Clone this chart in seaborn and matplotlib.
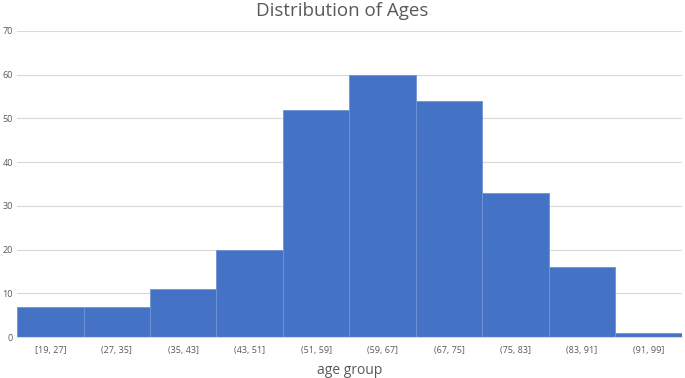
import seaborn as sns
import matplotlib.pyplot as plt
import pandas as pd

# Histogram counts per age group
age_groups = ['[19, 27]', '(27, 35]', '(35, 43]', '(43, 51]', '(51, 59]',
              '(59, 67]', '(67, 75]', '(75, 83]', '(83, 91]', '(91, 99]']
counts = [7, 7, 11, 20, 52, 60, 54, 33, 16, 1]

df = pd.DataFrame({'age group': age_groups, 'count': counts})

sns.set_style('white')
plt.rcParams['font.family'] = ['Open Sans', 'DejaVu Sans']

fig = plt.figure(figsize=(6.85, 3.78), dpi=100)
ax = fig.add_axes([0.025, 0.108, 0.97, 0.810])

sns.barplot(data=df, x='age group', y='count', color='#4472C4', width=1.0,
            edgecolor='#6E93D6', linewidth=0.6, saturation=1, ax=ax)

ax.set_ylim(0, 70)
ax.set_xlim(-0.5, len(age_groups) - 0.5)
ax.set_yticks(range(0, 71, 10))
ax.yaxis.grid(True, color='#D9D9D9', linewidth=0.8)
ax.set_axisbelow(True)
for side in ['top', 'right', 'left']:
    ax.spines[side].set_visible(False)
ax.spines['bottom'].set_color('#D9D9D9')
ax.tick_params(axis='both', length=0, labelsize=6.5, labelcolor='#595959')
ax.tick_params(axis='y', pad=3)
ax.tick_params(axis='x', pad=6)

ax.set_ylabel('')
ax.set_xlabel('age group', fontsize=10, color='#595959', labelpad=6)
fig.suptitle('Distribution of Ages', fontsize=13.5, color='#595959', y=0.995)

fig.savefig('out.png', dpi=100)
